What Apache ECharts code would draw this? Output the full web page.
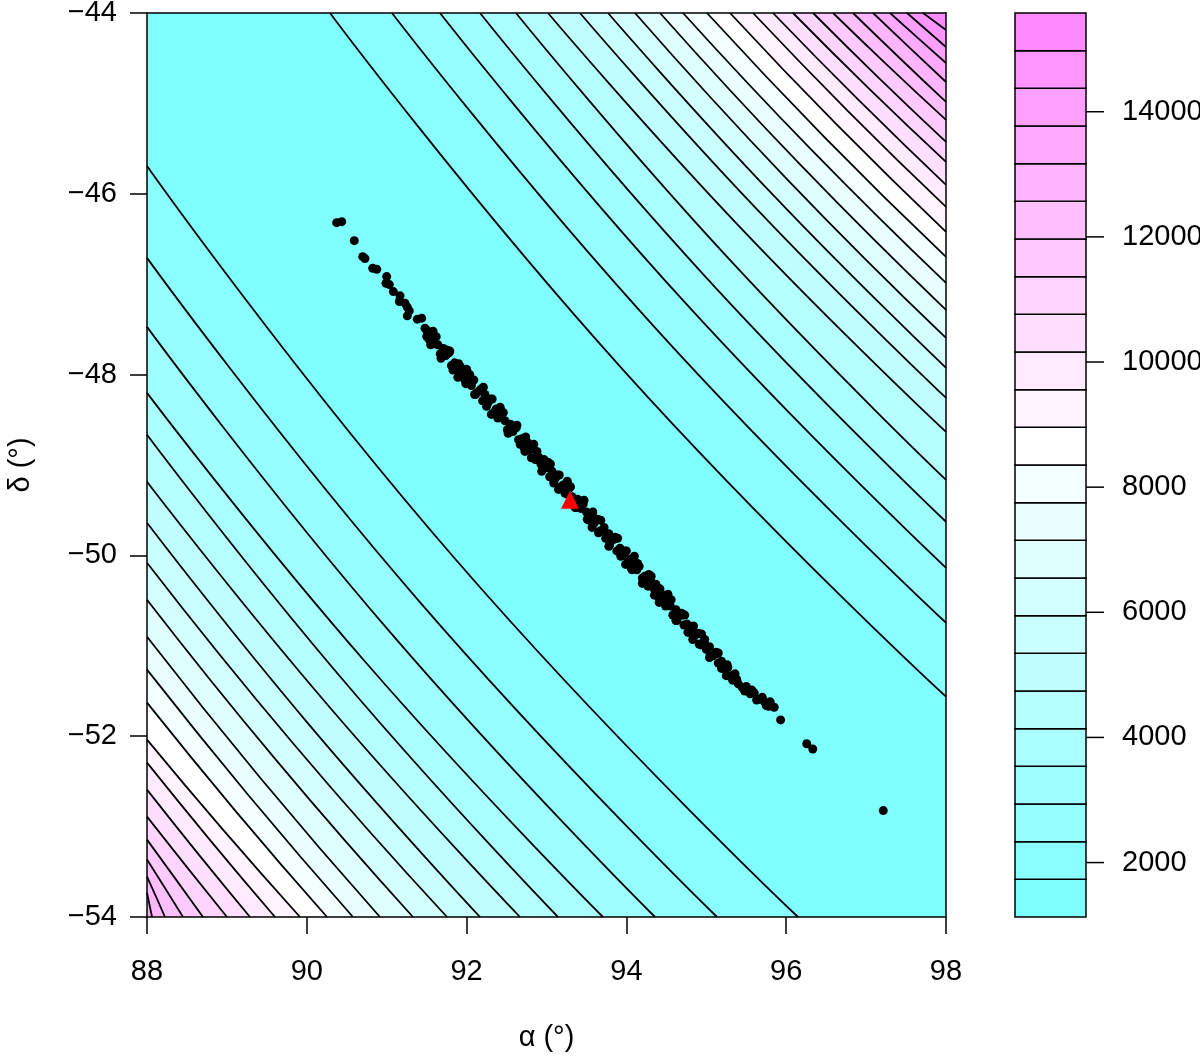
<!DOCTYPE html>
<html>
<head>
<meta charset="utf-8">
<script src="https://cdn.jsdelivr.net/npm/echarts@6/dist/echarts.min.js"></script>
<style>
html, body { margin: 0; background: #fff; }
#main { width: 1200px; height: 1058px; }
</style>
</head>
<body>
<div id="main"></div>
<script>
// contour levels of the colour key (25 edges -> 24 bands)
const levels = [1130, 1732, 2334, 2936, 3538, 4140, 4742, 5344, 5946, 6548, 7150, 7752,
    8354, 8956, 9558, 10160, 10762, 11364, 11966, 12568, 13170, 13772, 14374, 14976, 15578]
const keyTicks = [2000, 4000, 6000, 8000, 10000, 12000, 14000]

// contour lines below-left of the valley, level 1 outwards: [alpha, delta] points
const lowerLines = [
    [[88, -45.692], [91.855, -50.037], [96.148, -54]],
    [[88, -46.709], [91.399, -50.500], [95.134, -54]],
    [[88, -47.472], [91.045, -50.852], [94.358, -54]],
    [[88, -48.202], [90.747, -51.193], [93.707, -54]],
    [[88, -48.666], [90.483, -51.409], [93.144, -54]],
    [[88, -49.186], [90.262, -51.655], [92.668, -54]],
    [[88, -49.639], [90.025, -51.869], [92.168, -54]],
    [[88, -50.081], [89.830, -52.081], [91.755, -54]],
    [[88, -50.490], [89.627, -52.276], [91.329, -54]],
    [[88, -50.900], [89.429, -52.473], [90.916, -54]],
    [[88, -51.264], [89.267, -52.650], [90.578, -54]],
    [[88, -51.629], [89.109, -52.828], [90.253, -54]],
    [[88, -52.038], [88.945, -53.028], [89.915, -54]],
    [[88, -52.293], [88.792, -53.152], [89.602, -54]],
    [[88, -52.591], [88.638, -53.299], [89.289, -54]],
    [[88, -52.890], [88.497, -53.446], [89.001, -54]],
    [[88, -53.144], [88.350, -53.570], [88.701, -54]],
    [[88, -53.365], [88.225, -53.680], [88.451, -54]],
    [[88, -53.553], [88.113, -53.775], [88.225, -54]],
    [[88, -53.730], [88.031, -53.863], [88.063, -54]]
]

// contour lines above-right of the valley, level 1 outwards
const upperLines = [
    [[90.290, -44], [93.958, -47.947], [98, -51.563]],
    [[91.066, -44], [94.383, -47.505], [98, -50.745]],
    [[91.667, -44], [94.709, -47.179], [98, -50.137]],
    [[92.168, -44], [94.979, -46.907], [98, -49.628]],
    [[92.618, -44], [95.220, -46.660], [98, -49.164]],
    [[93.019, -44], [95.436, -46.382], [98, -48.633]],
    [[93.419, -44], [95.647, -46.184], [98, -48.257]],
    [[93.770, -44], [95.832, -46.009], [98, -47.925]],
    [[94.108, -44], [96.009, -45.837], [98, -47.594]],
    [[94.421, -44], [96.173, -45.675], [98, -47.284]],
    [[94.709, -44], [96.323, -45.520], [98, -46.985]],
    [[95.009, -44], [96.478, -45.372], [98, -46.698]],
    [[95.297, -44], [96.627, -45.230], [98, -46.421]],
    [[95.585, -44], [96.776, -45.087], [98, -46.145]],
    [[95.835, -44], [96.905, -44.962], [98, -45.902]],
    [[96.085, -44], [97.033, -44.833], [98, -45.647]],
    [[96.336, -44], [97.161, -44.720], [98, -45.426]],
    [[96.586, -44], [97.288, -44.596], [98, -45.183]],
    [[96.836, -44], [97.416, -44.495], [98, -44.984]],
    [[97.087, -44], [97.543, -44.384], [98, -44.763]],
    [[97.299, -44], [97.650, -44.278], [98, -44.553]],
    [[97.512, -44], [97.756, -44.188], [98, -44.376]],
    [[97.712, -44], [97.856, -44.094], [98, -44.188]]
]

// sampled positions (alpha, delta)
const samples = [
    [90.374, -46.319], [90.437, -46.308], [90.594, -46.518], [90.700, -46.695], [90.728, -46.717],
    [90.825, -46.823], [90.875, -46.834], [91.000, -46.916], [90.991, -46.989], [91.033, -47.004],
    [91.083, -47.082], [91.167, -47.129], [91.158, -47.192], [91.229, -47.210], [91.258, -47.254],
    [91.283, -47.295], [91.258, -47.350], [91.383, -47.387], [91.438, -47.376], [91.479, -47.486],
    [91.521, -47.542], [91.501, -47.579],
    [91.50, -47.51], [91.53, -47.61], [91.57, -47.56], [91.60, -47.66], [91.64, -47.67],
    [91.67, -47.77], [91.71, -47.71], [91.74, -47.79], [91.78, -47.76], [91.81, -47.90],
    [91.85, -47.87], [91.88, -47.95], [91.92, -47.91], [91.95, -47.99], [91.99, -48.10],
    [92.02, -48.03], [92.06, -48.12], [92.09, -48.06], [92.13, -48.20], [92.16, -48.18],
    [92.20, -48.29], [92.23, -48.22], [92.27, -48.31], [92.30, -48.27], [92.34, -48.42],
    [92.37, -48.38], [92.41, -48.47], [92.44, -48.42], [92.48, -48.51], [92.51, -48.61],
    [92.55, -48.55], [92.58, -48.63], [92.62, -48.59], [92.65, -48.72], [92.69, -48.71],
    [92.72, -48.81], [92.76, -48.75], [92.79, -48.83], [92.83, -48.81], [92.86, -48.94],
    [92.90, -48.91], [92.93, -48.99], [92.97, -48.94], [93.00, -49.03], [93.04, -49.13],
    [93.07, -49.07], [93.11, -49.15], [93.14, -49.11], [93.18, -49.24], [93.21, -49.22],
    [93.25, -49.32], [93.28, -49.26], [93.32, -49.35], [93.36, -49.44], [93.39, -49.38],
    [93.43, -49.48], [93.46, -49.43], [93.50, -49.52], [93.53, -49.61], [93.57, -49.56],
    [93.60, -49.64], [93.64, -49.60], [93.67, -49.73], [93.71, -49.72], [93.74, -49.81],
    [93.78, -49.76], [93.81, -49.84], [93.85, -49.82], [93.88, -49.95], [93.92, -49.92],
    [93.95, -50.00], [93.99, -49.95], [94.02, -50.04], [94.06, -50.14], [94.09, -50.08],
    [94.13, -50.16], [94.16, -50.12], [94.20, -50.25], [94.23, -50.23], [94.27, -50.34],
    [94.30, -50.27], [94.34, -50.36], [94.37, -50.32], [94.41, -50.47], [94.44, -50.43],
    [94.48, -50.52], [94.51, -50.47], [94.55, -50.56], [94.58, -50.66], [94.62, -50.60],
    [94.65, -50.68], [94.69, -50.64], [94.72, -50.77], [94.76, -50.76], [94.79, -50.85],
    [94.83, -50.80], [94.86, -50.88], [94.90, -50.86], [94.93, -50.99], [94.97, -50.96],
    [95.00, -51.04], [95.04, -51.01], [95.08, -51.11], [95.12, -51.09], [95.15, -51.19],
    [95.19, -51.17], [95.23, -51.26], [95.27, -51.24], [95.31, -51.33], [95.35, -51.33],
    [95.40, -51.42], [95.45, -51.46], [95.50, -51.45], [95.55, -51.53], [95.60, -51.52],
    [95.65, -51.59], [95.70, -51.57], [95.75, -51.66], [95.80, -51.62], [95.85, -51.68],
    [95.93, -51.82], [96.257, -52.083], [96.332, -52.141], [97.215, -52.823],
    [91.55, -47.67], [91.62, -47.58], [91.69, -47.76], [91.76, -47.73], [91.83, -47.95],
    [91.90, -47.88], [91.97, -48.05], [92.04, -48.00], [92.11, -48.22], [92.18, -48.16],
    [92.25, -48.35], [92.32, -48.27], [92.39, -48.48], [92.46, -48.42], [92.53, -48.64],
    [92.60, -48.59], [92.67, -48.77], [92.74, -48.69], [92.81, -48.92], [92.88, -48.85],
    [92.95, -49.03], [93.02, -48.97], [93.09, -49.20], [93.16, -49.11], [93.23, -49.31],
    [93.30, -49.24], [93.37, -49.47], [93.44, -49.40], [93.51, -49.60], [93.58, -49.52],
    [93.65, -49.75], [93.72, -49.69], [93.79, -49.88], [93.86, -49.80], [93.93, -50.01],
    [94.00, -49.95], [94.07, -50.16], [94.14, -50.09], [94.21, -50.29], [94.28, -50.21],
    [94.35, -50.44], [94.42, -50.37], [94.49, -50.56], [94.56, -50.49], [94.63, -50.72],
    [94.70, -50.66], [94.77, -50.85], [94.84, -50.78], [94.91, -50.98], [94.98, -50.93],
    [95.05, -51.11], [95.12, -51.07], [95.19, -51.25], [95.26, -51.21], [95.33, -51.38],
    [95.38, -51.37], [95.48, -51.50], [95.57, -51.49], [95.63, -51.60], [95.72, -51.61],
    [95.78, -51.67],
    [91.58, -47.52], [91.68, -47.82], [91.79, -47.74], [91.89, -48.03], [92.00, -47.94],
    [92.10, -48.22], [92.21, -48.14], [92.31, -48.44], [92.42, -48.36], [92.52, -48.65],
    [92.63, -48.56], [92.73, -48.85], [92.84, -48.77], [92.94, -49.07], [93.05, -48.99],
    [93.15, -49.27], [93.26, -49.18], [93.36, -49.47], [93.47, -49.39], [93.57, -49.69],
    [93.68, -49.61], [93.78, -49.90], [93.89, -49.81], [93.99, -50.10], [94.10, -50.01],
    [94.20, -50.31], [94.31, -50.23], [94.41, -50.52], [94.52, -50.43], [94.62, -50.72],
    [94.73, -50.66], [94.83, -50.93], [94.94, -50.87], [95.04, -51.13], [95.15, -51.08],
    [95.25, -51.33], [95.36, -51.31]
]
const bestFit = [[93.294, -49.385]]

// cm.colors style palette: cyan -> white -> magenta
const toHex = v => Math.round(v * 255).toString(16).padStart(2, '0')
const palette = levels.slice(1).map((l, i) => {
    if (i < 12) {
        let s = 0.5 - i / 24
        return '#' + toHex(1 - s) + 'ffff'
    }
    let s = (i - 12) / 24
    return '#ff' + toHex(1 - s) + 'ff'
})

const font = 'Liberation Sans'
const minus = v => (v < 0 ? '\u2212' + Math.abs(v) : String(v))

let myChart = echarts.init(document.getElementById('main'))

const contourSeries = []
lowerLines.forEach((pts, k) => {
    contourSeries.push({
        type: 'line', xAxisIndex: 0, yAxisIndex: 0, data: pts,
        smooth: 0.5, symbol: 'none', silent: true, z: 2,
        lineStyle: {color: '#000', width: 1.8},
        areaStyle: {color: palette[k + 1], opacity: 1, origin: 'start'}
    })
})
upperLines.forEach((pts, k) => {
    contourSeries.push({
        type: 'line', xAxisIndex: 0, yAxisIndex: 0, data: pts,
        smooth: 0.5, symbol: 'none', silent: true, z: 2,
        lineStyle: {color: '#000', width: 1.8},
        areaStyle: {color: palette[k + 1], opacity: 1, origin: 'end'}
    })
})

const keyData = levels.slice(1).map((hi, i) => [i, levels[i], hi])

const option = {
    animation: false,
    backgroundColor: '#fff',
    grid: [
        {left: 147, top: 13, width: 799, height: 904, show: true, backgroundColor: palette[0],
            borderWidth: 0, outerBoundsMode: 'none'},
        {left: 1015, top: 13, width: 71, height: 904, outerBoundsMode: 'none'}
    ],
    xAxis: [
        {
            gridIndex: 0, type: 'value', min: 88, max: 98, interval: 2, position: 'bottom', z: 10,
            axisLine: {show: true, onZero: false, lineStyle: {color: '#000', width: 1.5}},
            axisTick: {show: true, length: 17, lineStyle: {color: '#000', width: 1.5}},
            axisLabel: {color: '#000', fontSize: 29, fontFamily: font, margin: 40},
            splitLine: {show: false},
            name: '\u03b1 (\u00b0)', nameLocation: 'middle', nameGap: 106,
            nameTextStyle: {color: '#000', fontSize: 29, fontFamily: font}
        },
        {
            gridIndex: 0, type: 'value', min: 88, max: 98, position: 'top', z: 10,
            axisLine: {show: true, onZero: false, lineStyle: {color: '#000', width: 1.5}},
            axisTick: {show: false}, axisLabel: {show: false}, splitLine: {show: false}
        },
        {gridIndex: 1, type: 'value', min: 0, max: 1, show: false}
    ],
    yAxis: [
        {
            gridIndex: 0, type: 'value', min: -54, max: -44, interval: 2, position: 'left', z: 10,
            axisLine: {show: true, onZero: false, lineStyle: {color: '#000', width: 1.5}},
            axisTick: {show: true, length: 17, lineStyle: {color: '#000', width: 1.5}},
            axisLabel: {color: '#000', fontSize: 29, fontFamily: font, margin: 30, formatter: minus},
            splitLine: {show: false},
            name: '\u03b4 (\u00b0)', nameLocation: 'middle', nameGap: 112, nameRotate: 90,
            nameTextStyle: {color: '#000', fontSize: 29, fontFamily: font}
        },
        {
            gridIndex: 0, type: 'value', min: -54, max: -44, position: 'right', z: 10,
            axisLine: {show: true, onZero: false, lineStyle: {color: '#000', width: 1.5}},
            axisTick: {show: false}, axisLabel: {show: false}, splitLine: {show: false}
        },
        {gridIndex: 1, type: 'value', min: levels[0], max: levels[levels.length - 1], show: false}
    ],
    series: [
        ...contourSeries,
        {
            type: 'scatter', xAxisIndex: 0, yAxisIndex: 0, data: samples, z: 5,
            symbol: 'circle', symbolSize: 9, itemStyle: {color: '#000', opacity: 1}, silent: true
        },
        {
            type: 'scatter', xAxisIndex: 0, yAxisIndex: 0, data: bestFit, z: 6,
            symbol: 'triangle', symbolSize: 18, itemStyle: {color: '#ff0000', opacity: 1}, silent: true
        },
        {
            // colour key bands
            type: 'custom', xAxisIndex: 2, yAxisIndex: 2, data: keyData, silent: true, clip: false,
            encode: {y: [1, 2]},
            renderItem: (params, api) => {
                let lo = api.coord([0, api.value(1)])
                let hi = api.coord([1, api.value(2)])
                return {
                    type: 'rect',
                    shape: {x: lo[0], y: hi[1], width: hi[0] - lo[0], height: lo[1] - hi[1]},
                    style: {fill: palette[api.value(0)], stroke: '#000', lineWidth: 1.5}
                }
            }
        },
        {
            // colour key ticks and labels
            type: 'custom', xAxisIndex: 2, yAxisIndex: 2, data: keyTicks.map(v => [1, v]),
            silent: true, clip: false, z: 10,
            renderItem: (params, api) => {
                let p = api.coord([1, api.value(1)])
                return {
                    type: 'group',
                    children: [
                        {type: 'line', shape: {x1: p[0], y1: p[1], x2: p[0] + 18, y2: p[1]},
                            style: {stroke: '#000', lineWidth: 1.5}},
                        {type: 'text', x: p[0] + 36, y: p[1],
                            style: {text: String(api.value(1)), fill: '#000', font: '29px "Liberation Sans"',
                                align: 'left', verticalAlign: 'middle'}}
                    ]
                }
            }
        }
    ]
}

myChart.setOption(option)
</script>
</body>
</html>
